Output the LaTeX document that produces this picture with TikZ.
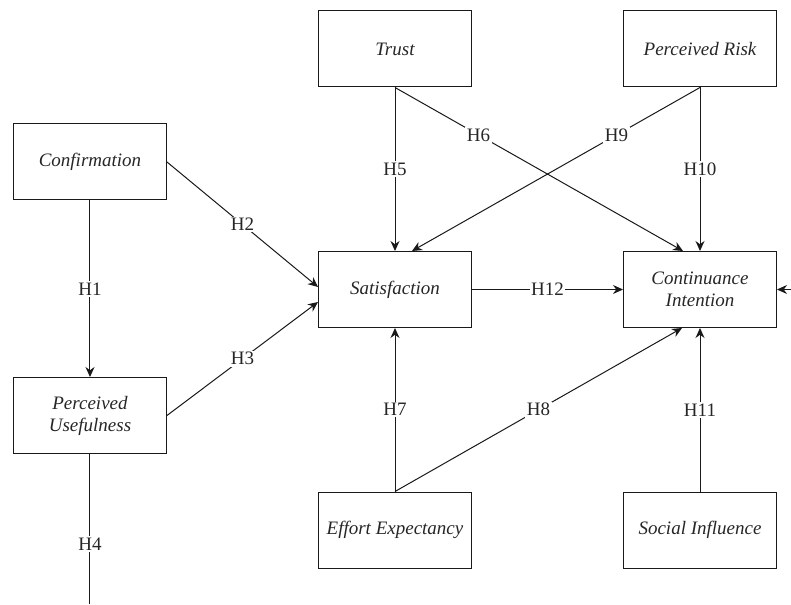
\documentclass[tikz,border=0pt]{standalone}
\usepackage{fontspec}
\setmainfont{Liberation Serif}
\usetikzlibrary{arrows.meta}

\begin{document}
\begin{tikzpicture}[x=1pt, y=1pt, node distance=305pt, line width=1pt, draw=black!90,
  var node/.style={draw, minimum width=153pt, minimum height=76pt, align=center, text=black!85, font=\fontsize{19}{22}\selectfont\itshape},
  hyp/.style={fill=white, inner sep=1.5pt, text=black!85, font=\fontsize{19}{22}\selectfont},
  >={Stealth[length=10pt, width=9pt]}]
\useasboundingbox (-395,289.5) rectangle (396,-314.5);
\node[var node]                                       (sat)    {Satisfaction};
\node[var node, right of=sat]                         (ci)     {Continuance\\Intention};
\node[var node, above of=sat, node distance=240.5pt]  (trust)  {Trust};
\node[var node, above of=ci, node distance=240.5pt]   (risk)   {Perceived Risk};
\node[var node, below of=sat, node distance=240.5pt]  (effort) {Effort Expectancy};
\node[var node, below of=ci, node distance=240.5pt]   (social) {Social Influence};
\node[var node, left of=sat, yshift=127.5pt]          (conf)   {Confirmation};
\node[var node, below of=conf, node distance=253.5pt] (pu)     {Perceived\\Usefulness};
\coordinate[below of=pu, node distance=188.5pt] (pubottom);
\coordinate[right of=ci, node distance=91pt]    (ciin);
\path[->]
(conf.south)   edge node[hyp] {H1} (pu.north)
(conf.east)    edge node[hyp] {H2} ([yshift=2.5pt]sat.west)
(pu.east)      edge node[hyp] {H3} ([yshift=-12.5pt]sat.west)
(trust.south)  edge node[hyp] {H5} (sat.north)
               edge node[hyp, pos=0.29] {H6} ([xshift=-17pt]ci.north)
(effort.north) edge node[hyp] {H7} (sat.south)
               edge node[hyp] {H8} ([xshift=-18pt]ci.south)
(risk.south)   edge node[hyp, pos=0.29] {H9} ([xshift=17pt]sat.north)
               edge node[hyp] {H10} (ci.north)
(social.north) edge node[hyp] {H11} (ci.south)
(sat.east)     edge node[hyp] {H12} (ci.east -| ci.west)
(ciin)         edge (ci.east);
\draw (pu.south) -- node[hyp, pos=0.6] {H4} (pubottom);
\end{tikzpicture}
\end{document}
